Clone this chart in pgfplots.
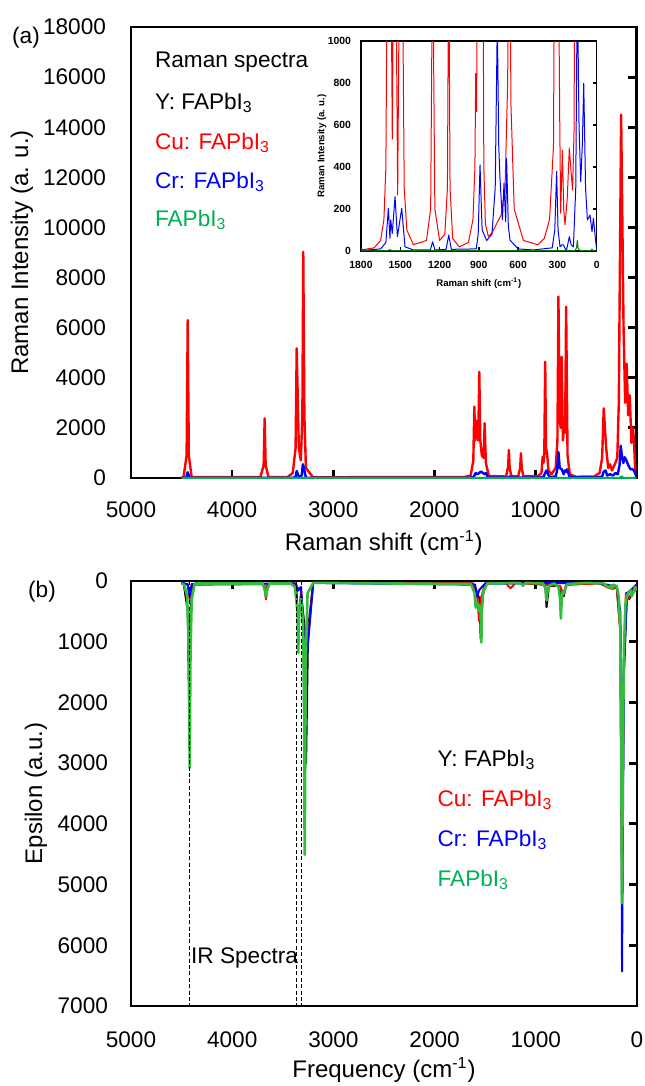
\documentclass[border=0pt]{standalone}
\usepackage{fontspec}
\setmainfont{Liberation Sans}
\usepackage{pgfplots}
\pgfplotsset{compat=1.18}

\definecolor{cured}{RGB}{255,0,0}
\definecolor{crblue}{RGB}{0,0,255}
\definecolor{fagreen}{RGB}{0,176,80}
\definecolor{irgreen}{RGB}{50,190,60}
\definecolor{insgreen}{RGB}{0,128,0}

\pgfplotsset{
  spec/.style={
    scale only axis, x dir=reverse, xmin=0, xmax=5000,
    xtick={0,1000,...,5000},
    scaled ticks=false,
    axis line style={line width=1.4pt},
    tick style={line width=1.4pt, black},
    major tick length=4pt,
    tick align=inside,
    ytick pos=right, yticklabel pos=left,
    /pgf/number format/assume math mode=true,
    /pgf/number format/1000 sep={},
    tick label style={font=\fontsize{11.3}{13}\selectfont},
    label style={font=\fontsize{12}{14}\selectfont},
    clip mode=individual,
    every axis plot/.append style={no markers, line join=round},
  },
}
\tikzset{leg/.style={anchor=west, font=\fontsize{11.3}{13}\selectfont}}

\begin{document}
\begin{tikzpicture}
\path[use as bounding box] (0,0) rectangle (322pt,-543pt);

% ---------------- (a) Raman ----------------
\begin{axis}[spec,
  at={(65.5pt,-239pt)}, anchor=south west,
  width=252.75pt, height=225.5pt,
  ymin=0, ymax=18000, ytick={0,2000,...,18000},
  xtick pos=left, xticklabel pos=left,
  xlabel={Raman shift (cm\textsuperscript{-1})},
  ylabel={Raman Intensity (a. u.)},
  xlabel style={at={(axis description cs:0.5,-0.144)}, anchor=center},
  ylabel style={at={(axis description cs:-0.2156,0.5)}, anchor=center},
  xticklabel style={yshift=-8.5pt},
  yticklabel style={xshift=-9pt},
]
% Y: FAPbI3
\addplot[black, line width=1.2pt] coordinates {(0,0) (4500,0)};
% Cu: FAPbI3
\addplot[cured, line width=1.2pt] coordinates {
(0,150) (13,300) (25,1500) (35,2000) (50,1400) (67,3300) (82,2500) (97,4560)
(112,3000) (128,6000) (142,11000) (152,14500) (163,9000) (175,3000) (190,800)
(209,600) (242,300) (262,550) (280,400) (300,1200) (324,2780) (340,800) (365,200)
(420,60) (600,50) (660,150) (682,900) (696,6840) (706,1800) (718,1900) (728,1500)
(740,4840) (750,2000) (762,2500) (772,7240) (782,1500) (800,400) (840,150)
(870,300) (885,1000) (895,1200) (903,4640) (912,900) (920,600) (928,850) (940,200)
(980,60) (1120,80) (1135,400) (1143,990) (1151,400) (1170,60) (1240,80) (1255,450)
(1262,1120) (1270,450) (1290,60) (1460,80) (1490,600) (1502,2190) (1512,800)
(1530,900) (1545,1500) (1555,4240) (1565,1500) (1580,1800) (1587,2300) (1595,1500)
(1604,2850) (1614,700) (1640,100) (1700,40) (3200,30) (3270,400) (3285,2500)
(3296,9030) (3305,2500) (3320,700) (3340,1200) (3361,5175) (3372,1200) (3400,200)
(3450,40) (3640,40) (3668,500) (3678,2380) (3688,500) (3720,40) (4400,40)
(4428,900) (4439,6300) (4450,900) (4480,40) (4500,20)};
% Cr: FAPbI3
\addplot[crblue, line width=1.2pt] coordinates {
(0,50) (25,300) (40,350) (60,350) (80,500) (100,700) (117,830) (130,600) (145,900)
(156,1290) (168,500) (185,150) (209,200) (230,100) (262,150) (290,100) (306,300)
(324,250) (340,60) (400,20) (660,30) (688,350) (696,250) (708,300) (720,150)
(740,350) (759,400) (772,1040) (785,300) (800,60) (860,40) (891,300) (903,200)
(920,50) (960,20) (1240,20) (1253,60) (1270,20) (1470,20) (1489,200) (1502,150)
(1540,260) (1555,200) (1573,150) (1591,200) (1610,40) (1650,10) (3270,10)
(3290,400) (3300,550) (3312,100) (3340,40) (3361,280) (3372,40) (3400,10)
(4420,10) (4439,230) (4455,10) (4500,10)};
% FAPbI3
\addplot[fagreen, line width=1.2pt] coordinates {(0,0) (130,0) (148,60) (165,0) (4500,0)};

\node[leg, text=black] at (axis cs:4832,16600) {Raman spectra};
\node[leg, text=black] at (axis cs:4832,14965) {Y: FAPbI\textsubscript{3}};
\node[leg, text=cured] at (axis cs:4832,13370) {Cu: FAPbI\textsubscript{3}};
\node[leg, text=crblue] at (axis cs:4832,11810) {Cr: FAPbI\textsubscript{3}};
\node[leg, text=fagreen] at (axis cs:4832,10295) {FAPbI\textsubscript{3}};
\end{axis}

% ---------------- inset ----------------
\begin{axis}[
  scale only axis, x dir=reverse,
  at={(180.5pt,-125.5pt)}, anchor=south west,
  width=117.85pt, height=105pt,
  xmin=0, xmax=1800, ymin=0, ymax=1000,
  xtick={0,300,...,1800}, ytick={0,200,...,1000},
  axis background/.style={fill=white},
  axis line style={line width=0.7pt},
  tick style={line width=0.7pt, black},
  major tick length=2pt, tick align=inside,
  xtick pos=left, xticklabel pos=left,
  ytick pos=right, yticklabel pos=left,
  /pgf/number format/assume math mode=true,
  /pgf/number format/1000 sep={},
  tick label style={font=\bfseries\fontsize{5.2}{6}\selectfont},
  xticklabel style={yshift=-1.5pt},
  yticklabel style={xshift=-1.5pt},
  label style={font=\bfseries\fontsize{4.8}{5.5}\selectfont},
  xlabel={Raman shift (cm\textsuperscript{-1})},
  ylabel={Raman Intensity (a. u.)},
  xlabel style={at={(axis description cs:0.5,-0.151)}, anchor=center},
  ylabel style={at={(axis description cs:-0.1655,0.5)}, anchor=center},
  every axis plot/.append style={no markers, line join=round},
]
\addplot[black, line width=0.5pt] coordinates {(0,0) (1800,0)};
\addplot[cured, line width=0.5pt] coordinates {
(0,1200) (50,2000) (100,4000) (140,11000) (160,5000) (172,600) (184,290) (196,380)
(209,490) (225,250) (242,125) (252,200) (262,480) (270,300) (275,180) (282,600)
(293,1500) (305,2000) (318,2000) (330,500) (360,150) (400,60) (450,30) (560,50)
(630,200) (655,700) (667,2000) (680,800) (700,300) (730,170) (764,130) (800,85)
(828,70) (850,130) (862,400) (871,2000) (890,2000) (909,2000) (917,663) (924,846)
(930,400) (945,150) (980,40) (1050,20) (1100,60) (1120,300) (1130,1500) (1140,300)
(1160,80) (1200,50) (1236,200) (1253,1500) (1268,200) (1300,50) (1400,30) (1450,100)
(1470,300) (1485,1500) (1505,1500) (1520,267) (1535,1500) (1550,1500) (1561,533)
(1572,1500) (1599,1500) (1610,400) (1625,150) (1650,50) (1700,15) (1800,5)};
\addplot[crblue, line width=0.5pt] coordinates {
(0,5) (10,60) (25,156) (36,92) (51,171) (71,148) (85,300) (99,798) (110,500)
(122,330) (135,600) (148,1300) (160,300) (178,20) (195,30) (209,68) (230,5)
(240,10) (255,29) (265,30) (280,20) (295,100) (306,378) (320,100) (340,15)
(484,5) (600,10) (662,52) (675,120) (688,441) (695,140) (708,322) (720,148)
(738,338) (748,500) (759,1100) (775,300) (800,80) (840,50) (875,100) (891,410)
(905,80) (920,10) (1110,8) (1130,76) (1150,8) (1236,5) (1253,44) (1270,5)
(1400,5) (1464,20) (1489,203) (1522,68) (1540,259) (1561,84) (1573,148) (1579,60)
(1591,203) (1610,40) (1650,10) (1800,2)};
\addplot[insgreen, line width=0.5pt] coordinates {
(0,0) (30,2) (36,10) (42,2) (130,2) (142,15) (148,50) (154,15) (165,2) (1560,2)
(1580,6) (1600,2) (1800,0)};
\end{axis}

% ---------------- (b) IR ----------------
\begin{axis}[spec,
  at={(65.5pt,-503pt)}, anchor=south west,
  width=253pt, height=212.5pt,
  y dir=reverse, ymin=0, ymax=7000, ytick={0,1000,...,7000},
  xtick pos=right, xticklabel pos=left,
  xlabel={Frequency (cm\textsuperscript{-1})},
  ylabel={Epsilon (a.u.)},
  xlabel style={at={(axis description cs:0.5,-0.1506)}, anchor=center},
  ylabel style={at={(axis description cs:-0.188,0.5)}, anchor=center},
  xticklabel style={yshift=-9.5pt},
  yticklabel style={xshift=-8pt},
]
% Y: FAPbI3
\addplot[black, line width=1pt] coordinates {
(0,100) (40,200) (80,300) (100,250) (130,1500) (148,5200) (165,800) (200,100)
(300,80) (400,30) (700,60) (723,250) (745,200) (752,300) (770,80) (870,80)
(894,430) (905,100) (940,30) (1500,40) (1530,300) (1545,950) (1555,300) (1580,200)
(1620,40) (3200,30) (3250,800) (3270,3000) (3282,800) (3320,200) (3347,700)
(3365,150) (3400,30) (3650,50) (3666,260) (3685,50) (4390,50) (4415,600)
(4425,2200) (4438,500) (4480,40) (4500,30)};
% Cu: FAPbI3
\addplot[cured, line width=1pt] coordinates {
(0,80) (40,150) (86,300) (110,200) (130,1500) (148,5000) (165,800) (200,100)
(240,130) (300,100) (350,40) (700,60) (723,220) (745,150) (760,80) (1200,30)
(1250,120) (1300,30) (1500,40) (1545,300) (1561,660) (1575,300) (1620,40)
(3200,30) (3280,1500) (3290,1000) (3320,100) (3350,130) (3400,30) (3650,50)
(3666,300) (3685,50) (4400,60) (4420,300) (4440,60) (4500,30)};
% Cr: FAPbI3
\addplot[crblue, line width=1pt] coordinates {
(0,50) (60,150) (100,200) (130,1500) (148,6430) (152,2000) (165,500) (200,80)
(300,60) (400,30) (1500,40) (1560,150) (1579,250) (1600,60) (3200,30) (3275,1500)
(3284,4050) (3295,800) (3320,100) (3350,160) (3370,40) (4400,50) (4420,250)
(4440,50) (4500,30)};
% FAPbI3
\addplot[irgreen, line width=1.3pt] coordinates {
(0,150) (20,100) (35,180) (52,250) (65,150) (86,200) (100,250) (115,400) (130,1200)
(142,3500) (148,5310) (155,3000) (165,800) (180,250) (200,90) (230,60) (245,120)
(260,70) (280,110) (300,80) (330,40) (500,30) (690,50) (715,150) (723,200)
(735,180) (745,350) (752,620) (760,300) (775,100) (820,40) (870,80) (885,180)
(894,320) (902,120) (930,40) (1100,30) (1120,60) (1126,80) (1132,60) (1160,30)
(1480,40) (1520,180) (1532,500) (1538,1010) (1545,500) (1555,400) (1561,500)
(1570,380) (1585,350) (1594,440) (1605,200) (1640,50) (3200,30) (3255,200)
(3272,1200) (3280,3500) (3284,4510) (3290,2000) (3300,700) (3320,300) (3338,500)
(3347,1180) (3355,500) (3380,100) (3420,40) (3630,40) (3655,150) (3666,250)
(3677,150) (3700,40) (4370,40) (4400,300) (4412,1200) (4420,3080) (4428,1200)
(4445,250) (4475,60) (4500,40)};
% marker lines
\addplot[black, line width=0.5pt, dash pattern=on 2pt off 1.2pt] coordinates {(4426,0) (4426,7000)};
\addplot[black, line width=0.5pt, dash pattern=on 2pt off 1.2pt] coordinates {(3369,0) (3369,7000)};
\addplot[black, line width=0.5pt, dash pattern=on 2pt off 1.2pt] coordinates {(3314,0) (3314,7000)};

\node[leg, text=black] at (axis cs:4475,6210) {IR Spectra};
\node[leg, text=black] at (axis cs:2040,2950) {Y: FAPbI\textsubscript{3}};
\node[leg, text=cured] at (axis cs:2040,3607) {Cu: FAPbI\textsubscript{3}};
\node[leg, text=crblue] at (axis cs:2040,4266) {Cr: FAPbI\textsubscript{3}};
\node[leg, text=fagreen] at (axis cs:2040,4925) {FAPbI\textsubscript{3}};
\end{axis}

\node[font=\fontsize{11.3}{13}\selectfont] at (13pt,-19pt) {(a)};
\node[font=\fontsize{11.3}{13}\selectfont] at (21pt,-296pt) {(b)};
\end{tikzpicture}
\end{document}
